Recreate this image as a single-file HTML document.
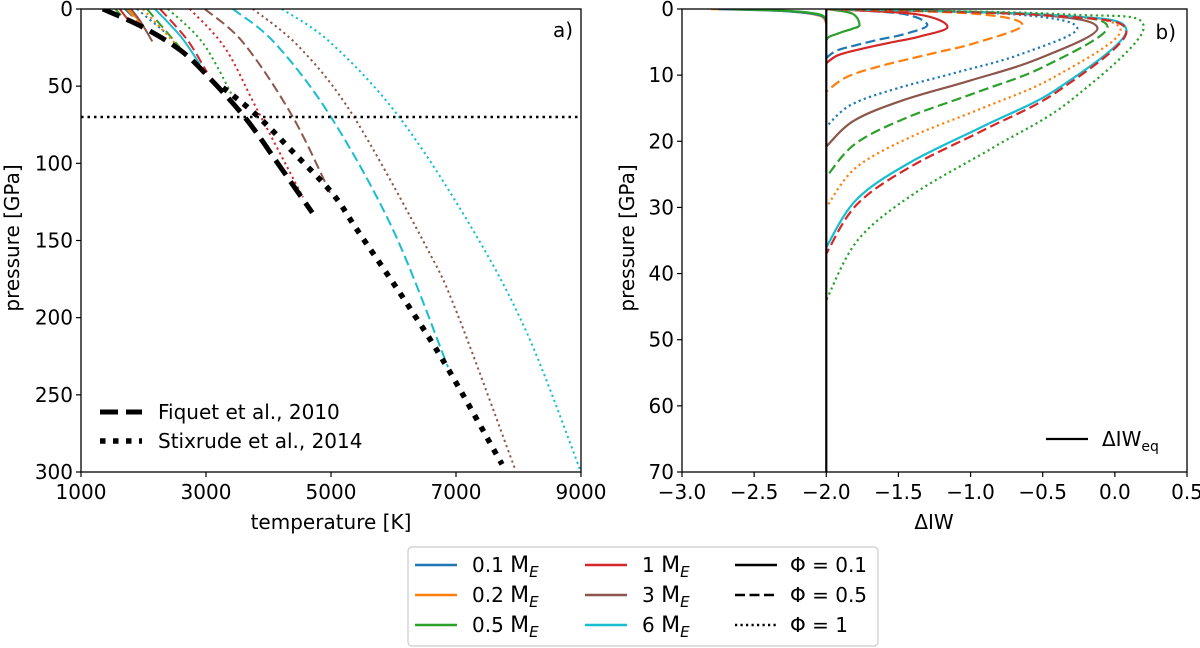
<!DOCTYPE html>
<html><head><meta charset="utf-8">
<style>
html,body{margin:0;padding:0;background:#fff;width:1200px;height:648px;overflow:hidden}
svg{display:block;font-family:"DejaVu Sans","Liberation Sans",sans-serif}
</style></head>
<body>
<svg id="fig" width="1200" height="648" viewBox="0 0 1200 648" xmlns="http://www.w3.org/2000/svg">
<g id="pa"></g>
<g id="pb"></g>
<g id="lg"></g>
</svg>
<script>
// ---------- Panel a data (temperature K, pressure GPa) ----------
const xTicksA = [1000,3000,5000,7000,9000];
const yTicksA = [0,50,100,150,200,250,300];
const fiquetT = [1350,2000,2600,3064,3656,4200,4700];
const fiquetP = [0,12,27,45,72,103,132];
const stixT = [3272,3816,4400,5032,5416,6200,6856,7736];
const stixP = [51,69,93,120,143,190,232,295];
const refPressure = [70];
const aNames = ['red-solid','orange-solid','green-solid','blue-dashed','brown-solid','orange-dashed','blue-dotted','cyan-solid','green-dashed','orange-dotted','red-dashed','green-dotted','red-dotted','brown-dashed','cyan-dashed','brown-dotted','cyan-dotted'];
const aColors = ['#d62728','#ff7f0e','#2ca02c','#1f77b4','#8c564b','#ff7f0e','#1f77b4','#17becf','#2ca02c','#ff7f0e','#d62728','#2ca02c','#d62728','#8c564b','#17becf','#8c564b','#17becf'];
const aStyles = ['solid','solid','solid','dashed','solid','dashed','dotted','solid','dashed','dotted','dashed','dotted','dotted','dashed','dashed','dotted','dotted'];
const aT = [
 [1620,1750],[1750,1940],[1550,1640],[1700,1830],[1800,1950,2140],[1736,1990],[1896,2344],
 [2184,2600,2904],[2056,2584],[1990,2570],[2264,2700,3016],[2392,2950,3432],
 [2740,3300,3816,4552],[2980,3600,4376,4984],[3430,4100,4984,5992,6872],
 [3750,4500,5352,6536,7016,7944],[4216,5000,6072,7224,8136,9000]];
const aP = [
 [0,7],[0,8],[0,4],[0,5],[0,8,21],[0,12],[0,15],
 [0,18,36],[0,25],[0,25],[0,20,41],[0,22,57],
 [0,25,65,122],[0,22,69,119],[0,22,69,143,232],
 [0,25,69,155,197,298],[0,22,69,140,210,300]];

// ---------- Panel b data (ΔIW, pressure GPa) ----------
const xTicksB = [-3.0,-2.5,-2.0,-1.5,-1.0,-0.5,0.0,0.5];
const yTicksB = [0,10,20,30,40,50,60,70];
const eqLine = [-2.0];
const bNames = ['orange-solid-neg','blue-solid-neg','green-solid-neg','green-solid','blue-dashed','red-solid','orange-dashed','blue-dotted','brown-solid','green-dashed','orange-dotted','cyan-solid','red-dashed','green-dotted'];
const bColors = ['#ff7f0e','#1f77b4','#2ca02c','#2ca02c','#1f77b4','#d62728','#ff7f0e','#1f77b4','#8c564b','#2ca02c','#ff7f0e','#17becf','#d62728','#2ca02c'];
const bStyles = ['solid','solid','solid','solid','dashed','solid','dashed','dotted','solid','dashed','dotted','solid','dashed','dotted'];
const bP = [
 [0,0.3,1.0,2.2],[0,0.3,0.9,1.8],[0,0.3,0.8,1.5],
 [0,0.7,2.4,3.0,3.4,3.8,4.2,4.7],
 [0,0.7,2.4,3.8,4.6,5.5,6.3,7.4],
 [0,0.8,2.7,4.2,5.1,6.1,7.0,8.2],
 [0,0.7,2.4,5.1,6.8,8.6,10.3,12.5],
 [0,0.8,2.9,6.9,9.5,12.0,14.5,17.8],
 [0,0.8,2.9,7.7,10.8,13.8,16.9,20.8],
 [0,0.8,2.7,8.8,12.7,16.5,20.4,25.4],
 [0,0.9,3.2,10.4,15.0,19.5,24.1,30],
 [0,0.9,3.2,12.1,17.6,23.2,28.8,36],
 [0,1.0,3.4,12.5,18.2,23.9,29.6,37],
 [0,0.8,2.7,13.9,20.9,27.9,34.9,44]];
const bV = [
 [-2.8,-2.3,-2.05,-2.0],[-2.75,-2.3,-2.05,-2.0],[-2.65,-2.25,-2.05,-2.0],
 [-2,-1.82,-1.77,-1.82,-1.88,-1.93,-1.98,-2],
 [-2,-1.48,-1.30,-1.46,-1.63,-1.80,-1.93,-2],
 [-2,-1.37,-1.16,-1.36,-1.56,-1.77,-1.92,-2],
 [-2,-0.98,-0.64,-0.96,-1.28,-1.62,-1.86,-2],
 [-2,-0.70,-0.26,-0.66,-1.08,-1.51,-1.83,-2],
 [-2,-0.59,-0.12,-0.55,-1.00,-1.47,-1.81,-2],
 [-2,-0.54,-0.05,-0.50,-0.97,-1.45,-1.80,-2],
 [-2,-0.47,0.04,-0.43,-0.92,-1.43,-1.80,-2],
 [-2,-0.44,0.08,-0.40,-0.90,-1.42,-1.79,-2],
 [-2,-0.44,0.08,-0.40,-0.90,-1.42,-1.79,-2],
 [-2,-0.35,0.20,-0.31,-0.84,-1.39,-1.78,-2]];

const NS='http://www.w3.org/2000/svg';
function mk(parent,tag,attrs,text){const e=document.createElementNS(NS,tag);for(const k in attrs)e.setAttribute(k,attrs[k]);if(text!==undefined)e.textContent=text;parent.appendChild(e);return e;}
const dashes={solid:'',dashed:'10 4.5',dotted:'2.2 3.3'};
function smooth(pts){
 if(pts.length<3)return 'M'+pts.map(p=>p[0].toFixed(1)+','+p[1].toFixed(1)).join('L');
 let d='M'+pts[0][0].toFixed(1)+','+pts[0][1].toFixed(1);
 for(let i=0;i<pts.length-1;i++){
  const p0=pts[Math.max(i-1,0)],p1=pts[i],p2=pts[i+1],p3=pts[Math.min(i+2,pts.length-1)];
  const c1=[p1[0]+(p2[0]-p0[0])/6,p1[1]+(p2[1]-p0[1])/6];
  const c2=[p2[0]-(p3[0]-p1[0])/6,p2[1]-(p3[1]-p1[1])/6];
  d+='C'+c1[0].toFixed(1)+','+c1[1].toFixed(1)+' '+c2[0].toFixed(1)+','+c2[1].toFixed(1)+' '+p2[0].toFixed(1)+','+p2[1].toFixed(1);
 }
 return d;
}

// ---------- Panel a ----------
const A={x0:81,x1:581,y0:9,y1:472};
const xa=t=>A.x0+(t-1000)/8000*(A.x1-A.x0);
const ya=p=>A.y0+p/300*(A.y1-A.y0);
const pa=document.getElementById('pa');
const clipA=mk(pa,'clipPath',{id:'ca'});mk(clipA,'rect',{x:A.x0,y:A.y0,width:A.x1-A.x0,height:A.y1-A.y0});
const ga=mk(pa,'g',{'clip-path':'url(#ca)'});


for(let i=0;i<aT.length;i++){
 const pts=aT[i].map((t,j)=>[xa(t),ya(aP[i][j])]);
 const el=mk(ga,'path',{d:smooth(pts),fill:'none',stroke:aColors[i],'stroke-width':2,'stroke-dasharray':dashes[aStyles[i]]});
 
 
}
{
 const f=mk(ga,'path',{d:smooth(fiquetT.map((t,j)=>[xa(t),ya(fiquetP[j])])),fill:'none',stroke:'#000','stroke-width':5,'stroke-dasharray':'18 8'});
 
 
 const s=mk(ga,'path',{d:smooth(stixT.map((t,j)=>[xa(t),ya(stixP[j])])),fill:'none',stroke:'#000','stroke-width':5.5,'stroke-dasharray':'5.5 7.5'});
 
 
 const h=mk(ga,'line',{x1:A.x0,x2:A.x1,y1:ya(refPressure[0]),y2:ya(refPressure[0]),stroke:'#000','stroke-width':2.5,'stroke-dasharray':'2.5 4'});
 
 
}
mk(pa,'rect',{x:A.x0,y:A.y0,width:A.x1-A.x0,height:A.y1-A.y0,fill:'none',stroke:'#000','stroke-width':1.3});
xTicksA.forEach(t=>{const x=xa(t);mk(pa,'line',{x1:x,x2:x,y1:A.y1,y2:A.y1+5,stroke:'#000','stroke-width':1.2});
 const l=mk(pa,'text',{x:x,y:499,'font-size':20,'text-anchor':'middle'},String(t));
 
 });
yTicksA.forEach(p=>{const y=ya(p);mk(pa,'line',{x1:A.x0-5,x2:A.x0,y1:y,y2:y,stroke:'#000','stroke-width':1.2});
 const l=mk(pa,'text',{x:A.x0-8,y:y+7,'font-size':20,'text-anchor':'end'},String(p));
 
 });
</script>
<script>
(function(){
const pa=document.getElementById('pa');
const xl=mk(pa,'text',{x:331,y:529,'font-size':20,'text-anchor':'middle'},'temperature [K]');


const yl=mk(pa,'text',{x:0,y:0,'font-size':20,'text-anchor':'middle',transform:'translate(19,238) rotate(-90)'},'pressure [GPa]');


const lab=mk(pa,'text',{x:573,y:37,'font-size':20,'text-anchor':'end'},'a)');


const l1=mk(pa,'line',{x1:100,x2:142,y1:412,y2:412,stroke:'#000','stroke-width':5,'stroke-dasharray':'18 8'});


const t1=mk(pa,'text',{x:158,y:419,'font-size':20},'Fiquet et al., 2010');


const l2=mk(pa,'line',{x1:100,x2:142,y1:441,y2:441,stroke:'#000','stroke-width':5.5,'stroke-dasharray':'5.5 7.5'});


const t2=mk(pa,'text',{x:158,y:448,'font-size':20},'Stixrude et al., 2014');



// ---------- Panel b ----------
const B={x0:682,x1:1187,y0:9,y1:472};
const xb=v=>B.x0+(v+3)/3.5*(B.x1-B.x0);
const yb=p=>B.y0+p/70*(B.y1-B.y0);
const pb=document.getElementById('pb');
const clipB=mk(pb,'clipPath',{id:'cb'});mk(clipB,'rect',{x:B.x0,y:B.y0,width:B.x1-B.x0,height:B.y1-B.y0});
const gb=mk(pb,'g',{'clip-path':'url(#cb)'});


for(let i=0;i<bP.length;i++){
 const pts=bP[i].map((p,j)=>[xb(bV[i][j]),yb(p)]);
 const el=mk(gb,'path',{d:smooth(pts),fill:'none',stroke:bColors[i],'stroke-width':2.2,'stroke-dasharray':dashes[bStyles[i]]});
 
 
}
const eq=mk(gb,'line',{x1:xb(eqLine[0]),x2:xb(eqLine[0]),y1:B.y0,y2:B.y1,stroke:'#000','stroke-width':2.2});


mk(pb,'rect',{x:B.x0,y:B.y0,width:B.x1-B.x0,height:B.y1-B.y0,fill:'none',stroke:'#000','stroke-width':1.3});
xTicksB.forEach(v=>{const x=xb(v);mk(pb,'line',{x1:x,x2:x,y1:B.y1,y2:B.y1+5,stroke:'#000','stroke-width':1.2});
 const l=mk(pb,'text',{x:x,y:499,'font-size':20,'text-anchor':'middle'},(v<0?'\u2212':'')+Math.abs(v).toFixed(1));
 
 });
yTicksB.forEach(p=>{const y=yb(p);mk(pb,'line',{x1:B.x0-5,x2:B.x0,y1:y,y2:y,stroke:'#000','stroke-width':1.2});
 const l=mk(pb,'text',{x:B.x0-8,y:y+7,'font-size':20,'text-anchor':'end'},String(p));
 
 });
const xl2=mk(pb,'text',{x:934,y:529,'font-size':20,'text-anchor':'middle'},'ΔIW');


const yl2=mk(pb,'text',{x:0,y:0,'font-size':20,'text-anchor':'middle',transform:'translate(634,238) rotate(-90)'},'pressure [GPa]');


const labb=mk(pb,'text',{x:1176,y:39,'font-size':20,'text-anchor':'end'},'b)');


const le=mk(pb,'line',{x1:1046,x2:1088,y1:439,y2:439,stroke:'#000','stroke-width':2.2});


const te=mk(pb,'text',{x:1102,y:446,'font-size':20},'ΔIW');


mk(te,'tspan',{'font-size':14,dy:5},'eq');

// ---------- Bottom legend ----------
const lg=document.getElementById('lg');
const box=mk(lg,'rect',{x:408,y:547,width:470,height:99,rx:4,fill:'#fff',stroke:'#ccc','stroke-width':1.2});


const entries=[
 [415,565,'#1f77b4','solid','0.1 ',true],[415,595,'#ff7f0e','solid','0.2 ',true],[415,625,'#2ca02c','solid','0.5 ',true],
 [585,565,'#d62728','solid','1 ',true],[585,595,'#8c564b','solid','3 ',true],[585,625,'#17becf','solid','6 ',true],
 [735,565,'#000','solid','Φ = 0.1',false],[735,595,'#000','dashed','Φ = 0.5',false],[735,625,'#000','dotted','Φ = 1',false]];
entries.forEach(e=>{
 const ln=mk(lg,'line',{x1:e[0],x2:e[0]+42,y1:e[1],y2:e[1],stroke:e[2],'stroke-width':2.5,'stroke-dasharray':dashes[e[3]]});
 
 
 const tx=mk(lg,'text',{x:e[0]+(e[5]?57:55),y:e[1]+7,'font-size':20},e[4]);
 
 
 if(e[5]){mk(tx,'tspan',{'font-size':22},'M');mk(tx,'tspan',{'font-size':15,dy:5,'font-style':'italic'},'E');}
});
})();
</script>
</body></html>
